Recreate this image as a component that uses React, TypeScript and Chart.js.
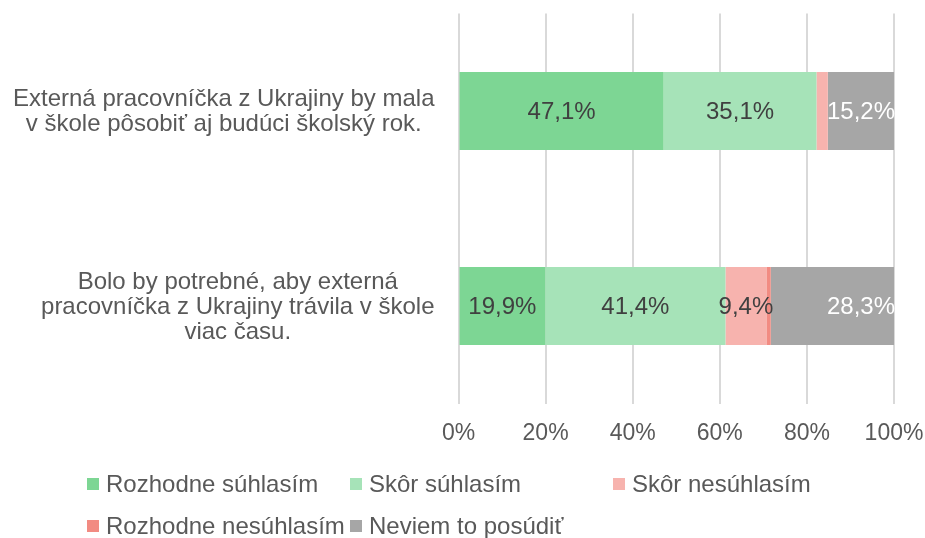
import React, { useEffect, useRef } from "react";
import { Chart, registerables } from "chart.js";

Chart.register(...registerables);

const categories: string[][] = [
  ["Externá pracovníčka z Ukrajiny by mala", "v škole pôsobiť aj budúci školský rok."],
  ["Bolo by potrebné, aby externá", "pracovníčka z Ukrajiny trávila v škole", "viac času."],
];
const seriesNames = [
  "Rozhodne súhlasím",
  "Skôr súhlasím",
  "Skôr nesúhlasím",
  "Rozhodne nesúhlasím",
  "Neviem to posúdiť",
];
const rozhodneSuhlasim = [47.1, 19.9];
const skorSuhlasim = [35.1, 41.4];
const skorNesuhlasim = [2.6, 9.4];
const rozhodneNesuhlasim = [0, 1.0];
const neviem = [15.2, 28.3];
const xTicks = [0, 20, 40, 60, 80, 100];
const seriesColors = ["#7dd694", "#a6e3b8", "#f7b3ae", "#f28b82", "#a6a6a6"];

const FONT = "'Liberation Sans', Arial, sans-serif";
const TEXT = "#595959";

const fmt = (v: number) => v.toFixed(1).replace(".", ",") + "%";

const dataLabelPlugin = {
  id: "dataLabels",
  afterDatasetsDraw(chart: any) {
    const ctx = chart.ctx;
    ctx.save();
    ctx.font = `24px ${FONT}`;
    ctx.textBaseline = "middle";
    const n = chart.data.datasets.length;
    chart.data.datasets.forEach((ds: any, d: number) => {
      const meta = chart.getDatasetMeta(d);
      meta.data.forEach((bar: any, i: number) => {
        const v = ds.data[i];
        if (v < 5) return;
        const { x, base, y } = bar.getProps(["x", "base", "y"], true);
        if (d === n - 1) {
          ctx.fillStyle = "#ffffff";
          ctx.textAlign = "right";
          ctx.fillText(fmt(v), x + 1, y + 1);
        } else {
          ctx.fillStyle = "#404040";
          ctx.textAlign = "center";
          ctx.fillText(fmt(v), (x + base) / 2, y + 1);
        }
      });
    });
    ctx.restore();
  },
};

const categoryLabelPlugin = {
  id: "categoryLabels",
  afterDraw(chart: any) {
    const ctx = chart.ctx;
    const yScale = chart.scales.y;
    const left = chart.chartArea.left;
    ctx.save();
    ctx.font = `24px ${FONT}`;
    ctx.fillStyle = TEXT;
    ctx.textAlign = "center";
    ctx.textBaseline = "middle";
    categories.forEach((lines, i) => {
      const cy = yScale.getPixelForValue(i);
      const maxW = Math.max(...lines.map((l) => ctx.measureText(l).width));
      const cx = left - 24 - maxW / 2;
      lines.forEach((l, j) => {
        ctx.fillText(l, cx, cy + 1 + (j - (lines.length - 1) / 2) * 25);
      });
    });
    ctx.restore();
  },
};

const legendPlugin = {
  id: "gridLegend",
  afterDraw(chart: any) {
    const ctx = chart.ctx;
    const cols = [87, 350, 613];
    const rows = [484, 526];
    ctx.save();
    ctx.font = `24px ${FONT}`;
    ctx.textBaseline = "middle";
    ctx.textAlign = "left";
    seriesNames.forEach((name, k) => {
      const cx = cols[k % 3];
      const cy = rows[Math.floor(k / 3)];
      ctx.fillStyle = seriesColors[k];
      ctx.fillRect(cx, cy - 6, 12, 12);
      ctx.fillStyle = TEXT;
      ctx.fillText(name, cx + 19, cy + 1);
    });
    ctx.restore();
  },
};

export default function App() {
  const ref = useRef<HTMLCanvasElement>(null);
  useEffect(() => {
    if (!ref.current) return;
    const values = [rozhodneSuhlasim, skorSuhlasim, skorNesuhlasim, rozhodneNesuhlasim, neviem];
    const chart = new Chart(ref.current, {
      type: "bar",
      data: {
        labels: categories.map((c) => c.join(" ")),
        datasets: seriesNames.map((name, k) => ({
          label: name,
          data: values[k],
          backgroundColor: seriesColors[k],
          borderWidth: 0,
          categoryPercentage: 0.8,
          barPercentage: 0.5,
        })),
      },
      options: {
        indexAxis: "y",
        animation: false,
        responsive: true,
        maintainAspectRatio: false,
        layout: { padding: { left: 458.5, right: 31, top: 13.5, bottom: 94.5 } },
        plugins: {
          legend: { display: false },
          tooltip: { enabled: false },
        },
        scales: {
          x: {
            stacked: true,
            min: 0,
            max: 100,
            afterBuildTicks: (scale: any) => {
              scale.ticks = xTicks.map((v) => ({ value: v }));
            },
            afterFit: (scale: any) => {
              scale.height = 40;
              scale.paddingLeft = 0;
              scale.paddingRight = 0;
            },
            ticks: {
              callback: (v: any) => v + "%",
              font: { size: 23, family: FONT },
              color: TEXT,
              padding: 16,
              maxRotation: 0,
            },
            grid: { color: "#d9d9d9", lineWidth: 2, drawTicks: false },
            border: { display: false },
          },
          y: {
            stacked: true,
            display: false,
          },
        },
      },
      plugins: [dataLabelPlugin, categoryLabelPlugin, legendPlugin],
    } as any);
    return () => chart.destroy();
  }, []);
  return (
    <div style={{ position: "absolute", left: 0, top: 0, width: 925, height: 538 }}>
      <canvas ref={ref} />
    </div>
  );
}
